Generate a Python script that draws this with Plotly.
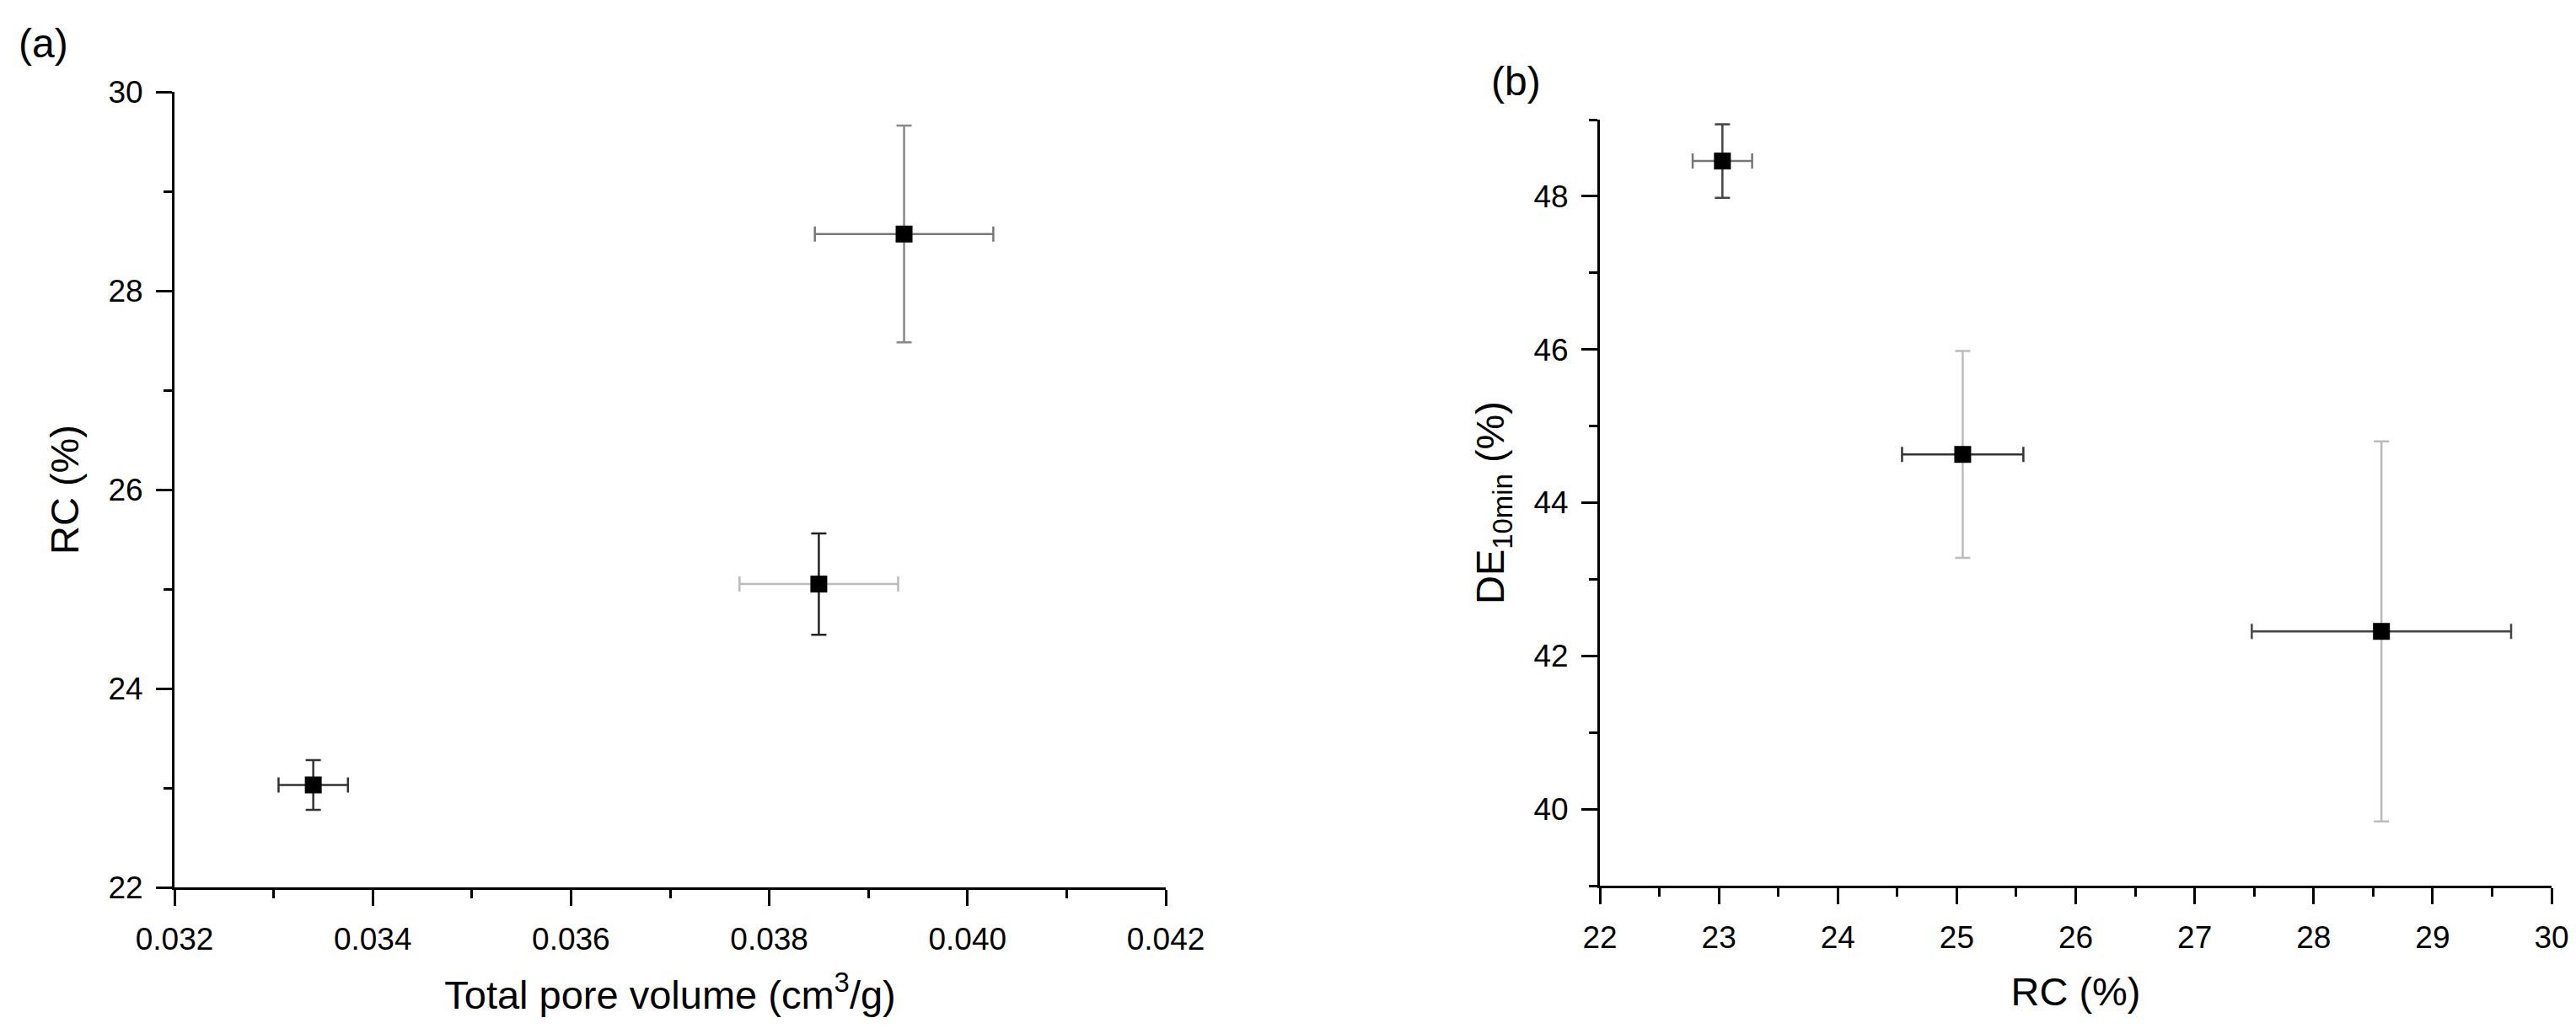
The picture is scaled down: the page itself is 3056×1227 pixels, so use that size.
import plotly.graph_objects as go

# panel (a): RC vs total pore volume, panel (b): DE10min vs RC
pore_volume = [0.0334, 0.0385, 0.03936]
pore_volume_err = [0.00035, 0.0008, 0.0009]
rc = [23.03, 25.05, 28.57]
rc_err = [0.25, 0.51, 1.09]
de_10min = [48.46, 44.63, 42.32]
de_10min_err = [0.48, 1.35, 2.48]

# error bar shades as seen in the figure (x, y) per point
err_colors_a = [('#333333', '#333333'), ('#bbbbbb', '#222222'), ('#777777', '#888888')]
err_colors_b = [('#777777', '#444444'), ('#333333', '#bbbbbb'), ('#444444', '#bbbbbb')]

# page body has an 8px margin, so the figure is a bit smaller than the window
PAD = 8
W, H = 3056 - 2 * PAD, 1227 - 2 * PAD
FONT = 'Liberation Sans, Arial, sans-serif'


def px_x(v):
    return (v - PAD) / W


def px_y(v):
    return 1 - (v - PAD) / H


fig = go.Figure()


def add_points(xs, xerr, ys, yerr, colors, xref, yref):
    for i in range(len(xs)):
        cx, cy = colors[i]
        fig.add_trace(go.Scatter(
            x=[xs[i]], y=[ys[i]], mode='markers', xaxis=xref, yaxis=yref,
            marker=dict(symbol='square', size=20, color='black'),
            error_x=dict(type='data', array=[xerr[i]], color=cx, thickness=2.5, width=9),
            error_y=dict(type='data', array=[yerr[i]], color=cy, thickness=2.5, width=9),
            showlegend=False,
        ))


add_points(pore_volume, pore_volume_err, rc, rc_err, err_colors_a, 'x', 'y')
add_points(rc, rc_err, de_10min, de_10min_err, err_colors_b, 'x2', 'y2')


def axis_style(rng, dtick, minor_dtick, title, standoff, domain, anchor, fmt=None):
    d = dict(
        range=rng, domain=domain, anchor=anchor, dtick=dtick, tick0=rng[0],
        showline=True, linecolor='black', linewidth=3, mirror=False,
        ticks='outside', ticklen=19, tickwidth=3, tickcolor='black',
        ticklabelstandoff=8, automargin=False,
        minor=dict(dtick=minor_dtick, tick0=rng[0], ticks='outside', ticklen=10,
                   tickwidth=3, tickcolor='black', showgrid=False),
        showgrid=False, zeroline=False,
        tickfont=dict(family=FONT, size=37, color='black'),
        title=dict(text=title, standoff=standoff, font=dict(family=FONT, size=47, color='black')),
    )
    if fmt:
        d['tickformat'] = fmt
    return d


fig.update_layout(
    width=W, height=H,
    margin=dict(l=0, r=0, t=0, b=0, autoexpand=False),
    paper_bgcolor='white', plot_bgcolor='white',
    font=dict(family=FONT, color='black'),
    xaxis=axis_style([0.032, 0.042], 0.002, 0.001, 'Total pore volume (cm<sup>3</sup>/g)', 30,
                     [px_x(207), px_x(1383)], 'y', '.3f'),
    yaxis=axis_style([22, 30], 2, 1, 'RC (%)', 20, [px_y(1053), px_y(109)], 'x'),
    xaxis2=axis_style([22, 30], 1, 0.5, 'RC (%)', 28, [px_x(1898), px_x(3027)], 'y2'),
    yaxis2=axis_style([39, 49], 2, 1, 'DE<sub>10min</sub> (%)', 20, [px_y(1051), px_y(142)], 'x2'),
)
fig.layout.yaxis2.tick0 = 40
fig.layout.yaxis2.minor.tick0 = 39

fig.add_annotation(text='(a)', x=px_x(51), y=px_y(51), xref='paper', yref='paper',
                   showarrow=False, xanchor='center', yanchor='middle',
                   font=dict(family=FONT, size=48, color='black'))
fig.add_annotation(text='(b)', x=px_x(1798), y=px_y(96), xref='paper', yref='paper',
                   showarrow=False, xanchor='center', yanchor='middle',
                   font=dict(family=FONT, size=48, color='black'))

fig.write_html('out.html')
